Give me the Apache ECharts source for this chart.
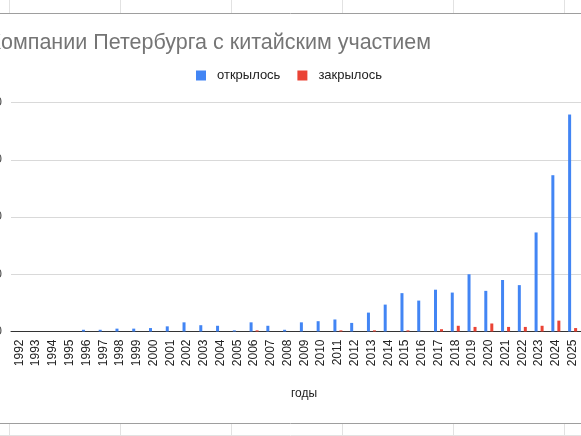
<!DOCTYPE html>
<html>
<head>
<meta charset="utf-8">
<script src="https://cdn.jsdelivr.net/npm/echarts@6/dist/echarts.min.js"></script>
<style>
html,body{margin:0;padding:0;background:#fff;}
#c{width:581px;height:436px;}
</style>
</head>
<body>
<div id="c"></div>
<script>
var years = ['1992','1993','1994','1995','1996','1997','1998','1999','2000','2001','2002','2003','2004','2005','2006','2007','2008','2009','2010','2011','2012','2013','2014','2015','2016','2017','2018','2019','2020','2021','2022','2023','2024','2025'];
var openedCounts = [0,0,0,0,3,3,5,5,6,9,16,11,10,2,16,10,3,16,18,21,15,33,47,67,54,73,68,100,71,90,81,173,273,379];
var closedCounts = [0,0,0,0,0,0,0,0,0,0,0,0,0,0,2,0,0,0,0,2,0,2,0,2,0,4,10,8,14,8,8,10,19,6];
var seriesNames = ['открылось','закрылось'];
var titleText = 'Компании Петербурга с китайским участием';
var xName = 'годы';

var chart = echarts.init(document.getElementById('c'), null, {renderer:'canvas'});
var sheetX = [9,120,231,342,453,564];
var graphics = [];
graphics.push({type:'line', shape:{x1:0,y1:13.5,x2:581,y2:13.5}, style:{stroke:'#9e9e9e',lineWidth:1}, z:-1});
graphics.push({type:'line', shape:{x1:0,y1:423.5,x2:581,y2:423.5}, style:{stroke:'#9e9e9e',lineWidth:1}, z:-1});
graphics.push({type:'line', shape:{x1:0,y1:435.5,x2:581,y2:435.5}, style:{stroke:'#e2e2e2',lineWidth:1}, z:-1});
sheetX.forEach(function(x){
  graphics.push({type:'line', shape:{x1:x+0.5,y1:0,x2:x+0.5,y2:13}, style:{stroke:'#e2e2e2',lineWidth:1}, z:-1});
  graphics.push({type:'line', shape:{x1:x+0.5,y1:424,x2:x+0.5,y2:436}, style:{stroke:'#e2e2e2',lineWidth:1}, z:-1});
});

chart.setOption({
  animation:false,
  backgroundColor:'#fff',
  textStyle:{fontFamily:'Liberation Sans, Arial, sans-serif'},
  title:{text:titleText, left:-11.5, top:32, padding:0, textStyle:{fontSize:21.5, fontWeight:'normal', color:'#757575', fontFamily:'Liberation Sans, Arial, sans-serif'}},
  legend:{data:seriesNames, top:69, left:196, padding:0, itemWidth:10, itemHeight:10, itemGap:17, icon:'rect',
    textStyle:{fontSize:13, color:'#222', padding:[0,0,0,6]}},
  color:['#4285F4','#EA4335'],
  grid:{left:11, right:0, top:102.5, bottom:104.5, outerBoundsMode:'none', containLabel:false},
  xAxis:{type:'category', data:years, name:xName, nameLocation:'middle', nameGap:56,
    nameTextStyle:{fontSize:12, color:'#222', padding:[0,0,0,16]},
    axisLine:{lineStyle:{color:'#333',width:1}}, axisTick:{show:false},
    axisLabel:{rotate:90, fontSize:12, color:'#222', margin:8, interval:0}},
  yAxis:{type:'value', min:0, max:400, interval:100,
    axisLine:{show:false}, axisTick:{show:false},
    axisLabel:{fontSize:12, color:'#444', margin:9},
    splitLine:{lineStyle:{color:'#d9d9d9', width:1}}},
  series:[
    {name:seriesNames[0], type:'bar', data:openedCounts, barWidth:3, barGap:'100%'},
    {name:seriesNames[1], type:'bar', data:closedCounts, barWidth:3, barGap:'100%'}
  ],
  graphic:graphics
});
</script>
</body>
</html>
